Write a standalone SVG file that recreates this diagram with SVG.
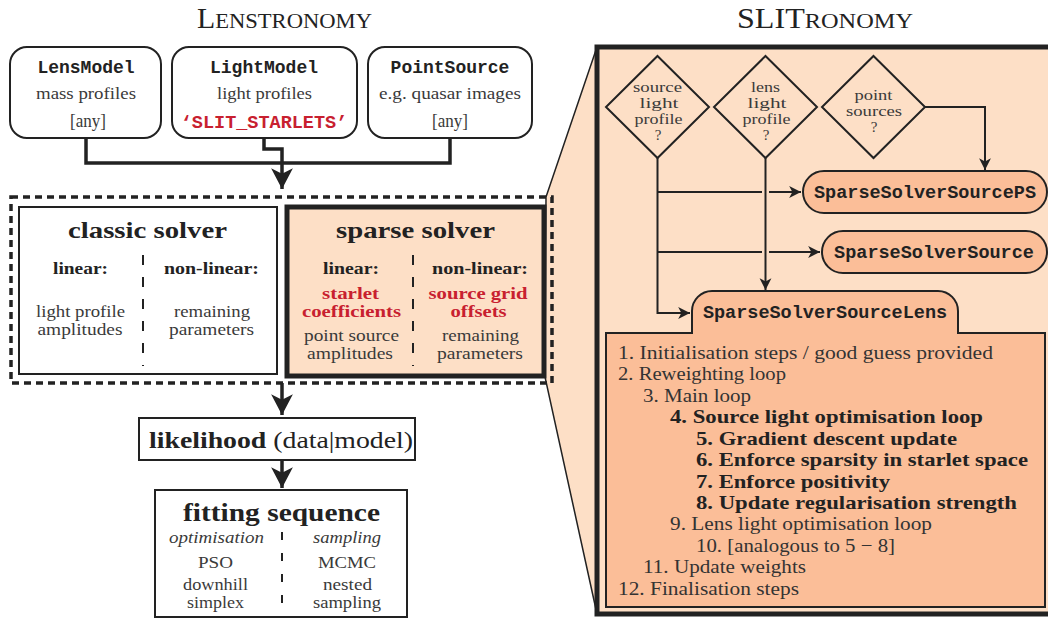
<svg xmlns="http://www.w3.org/2000/svg" width="1048" height="621" viewBox="0 0 1048 621">
<style>
.s{font-family:"Liberation Serif","DejaVu Serif",serif;fill:#3a3a3a;font-size:17px;text-anchor:middle}
.b{font-weight:bold;fill:#222}
.m{font-family:"Liberation Mono","DejaVu Sans Mono",monospace;font-weight:bold;fill:#222;text-anchor:middle}
.red{fill:#c8202f}
.dm{font-size:15px}
.box{fill:#fff;stroke:#222;stroke-width:2}
.thick{fill:none;stroke:#222;stroke-width:3.5}
.thin{fill:none;stroke:#222;stroke-width:2}
.div{stroke:#222;stroke-width:2;stroke-dasharray:10 12}
.lst{font-family:"Liberation Serif","DejaVu Serif",serif;fill:#333;font-size:19px}
.lb{font-weight:bold;fill:#222}
.pale{fill:#fddfc6}
.deep{fill:#fbbe98}
</style>
<defs>
<marker id="ah" markerUnits="userSpaceOnUse" markerWidth="24" markerHeight="24" viewBox="-20 -11 22 22" refX="0" refY="0" orient="auto">
<path d="M0,0 L-19,-10 L-14,0 L-19,10 Z" fill="#222"/>
</marker>
<marker id="as" markerUnits="userSpaceOnUse" markerWidth="14" markerHeight="14" viewBox="-12 -6 13 12" refX="0" refY="0" orient="auto">
<path d="M0,0 L-11,-5.5 L-8,0 L-11,5.5 Z" fill="#222"/>
</marker>
</defs>

<!-- titles -->
<text class="s" x="284.5" y="28" style="font-size:29px;fill:#222" textLength="175" lengthAdjust="spacingAndGlyphs">L<tspan style="font-size:22px">ENSTRONOMY</tspan></text>
<text class="s" x="825" y="28" style="font-size:29px;fill:#222" textLength="176" lengthAdjust="spacingAndGlyphs">SLIT<tspan style="font-size:22px">RONOMY</tspan></text>

<!-- zoom trapezoid and SLITronomy frame -->
<polygon points="546,197 597,47 597,614 545,377" class="pale" stroke="#222" stroke-width="1.5"/>
<rect x="597" y="47" width="470" height="567" class="pale" stroke="#222" stroke-width="5"/>

<!-- top Lenstronomy boxes -->
<g id="lensmodel">
<rect x="10" y="47" width="151" height="91" rx="17" class="box"/>
<text class="m" x="86" y="73" font-size="18">LensModel</text>
<text class="s" x="86" y="99" textLength="100" lengthAdjust="spacingAndGlyphs">mass profiles</text>
<text class="s" x="88" y="127" style="font-size:19px" textLength="36" lengthAdjust="spacingAndGlyphs">[any]</text>
</g>
<g id="lightmodel">
<rect x="172" y="47" width="185" height="91" rx="17" class="box"/>
<text class="m" x="264" y="73" font-size="18">LightModel</text>
<text class="s" x="264.5" y="99" textLength="95" lengthAdjust="spacingAndGlyphs">light profiles</text>
<text class="m red" x="264" y="128" font-size="18.5">‘SLIT_STARLETS’</text>
</g>
<g id="pointsource">
<rect x="368" y="47" width="164" height="91" rx="17" class="box"/>
<text class="m" x="450" y="73" font-size="18">PointSource</text>
<text class="s" x="450" y="99" textLength="142" lengthAdjust="spacingAndGlyphs">e.g. quasar images</text>
<text class="s" x="450" y="127" style="font-size:19px" textLength="36" lengthAdjust="spacingAndGlyphs">[any]</text>
</g>

<!-- solver group -->
<g id="solvers">
<rect x="11" y="197" width="541" height="186" fill="none" stroke="#222" stroke-width="3.5" stroke-dasharray="7 5"/>
</g>
<g id="classic">
<rect x="19" y="207" width="258" height="167" class="box"/>
<text class="s b" x="147.5" y="238" style="font-size:23px" textLength="159" lengthAdjust="spacingAndGlyphs">classic solver</text>
<line x1="143" y1="255" x2="143" y2="366" class="div"/>
<text class="s b" x="80.5" y="274" textLength="55" lengthAdjust="spacingAndGlyphs">linear:</text>
<text class="s b" x="211.5" y="274" textLength="95" lengthAdjust="spacingAndGlyphs">non-linear:</text>
<text class="s" x="80.5" y="317" textLength="89" lengthAdjust="spacingAndGlyphs">light profile</text>
<text class="s" x="80" y="335" textLength="85" lengthAdjust="spacingAndGlyphs">amplitudes</text>
<text class="s" x="212" y="317" textLength="76" lengthAdjust="spacingAndGlyphs">remaining</text>
<text class="s" x="211.5" y="335" textLength="85" lengthAdjust="spacingAndGlyphs">parameters</text>
</g>
<g id="sparse">
<rect x="287" y="207" width="257" height="169" class="pale" stroke="#222" stroke-width="5"/>
<text class="s b" x="415.5" y="238" style="font-size:23px" textLength="159" lengthAdjust="spacingAndGlyphs">sparse solver</text>
<line x1="413" y1="255" x2="413" y2="366" class="div"/>
<text class="s b" x="351" y="274" textLength="56" lengthAdjust="spacingAndGlyphs">linear:</text>
<text class="s b" x="480" y="274" textLength="96" lengthAdjust="spacingAndGlyphs">non-linear:</text>
<text class="s b red" x="350.5" y="299" textLength="57" lengthAdjust="spacingAndGlyphs">starlet</text>
<text class="s b red" x="351.5" y="317" textLength="99" lengthAdjust="spacingAndGlyphs">coefficients</text>
<text class="s b red" x="478" y="299" textLength="99" lengthAdjust="spacingAndGlyphs">source grid</text>
<text class="s b red" x="478.5" y="317" textLength="56" lengthAdjust="spacingAndGlyphs">offsets</text>
<text class="s" x="351.5" y="341" textLength="95" lengthAdjust="spacingAndGlyphs">point source</text>
<text class="s" x="350" y="359" textLength="86" lengthAdjust="spacingAndGlyphs">amplitudes</text>
<text class="s" x="480.5" y="341" textLength="77" lengthAdjust="spacingAndGlyphs">remaining</text>
<text class="s" x="480" y="359" textLength="86" lengthAdjust="spacingAndGlyphs">parameters</text>
</g>

<g id="likelihood">
<rect x="139" y="418" width="276" height="42" class="box"/>
<text class="s" x="281" y="448" style="font-size:24px;fill:#222" textLength="264" lengthAdjust="spacingAndGlyphs"><tspan font-weight="bold">likelihood</tspan> (data|model)</text>
</g>
<g id="fitting">
<rect x="155" y="490" width="252" height="127" class="box"/>
<text class="s b" x="281.5" y="521" style="font-size:25px" textLength="197" lengthAdjust="spacingAndGlyphs">fitting sequence</text>
<line x1="282" y1="532" x2="282" y2="612" stroke="#222" stroke-width="2" stroke-dasharray="8 13"/>
<text class="s" x="216.5" y="543" font-style="italic" textLength="95" lengthAdjust="spacingAndGlyphs">optimisation</text>
<text class="s" x="347" y="543" font-style="italic" textLength="68" lengthAdjust="spacingAndGlyphs">sampling</text>
<text class="s" x="215.5" y="568" textLength="35" lengthAdjust="spacingAndGlyphs">PSO</text>
<text class="s" x="347" y="568" textLength="58" lengthAdjust="spacingAndGlyphs">MCMC</text>
<text class="s" x="215.5" y="590" textLength="65" lengthAdjust="spacingAndGlyphs">downhill</text>
<text class="s" x="215.5" y="608" textLength="57" lengthAdjust="spacingAndGlyphs">simplex</text>
<text class="s" x="347.5" y="590" textLength="49" lengthAdjust="spacingAndGlyphs">nested</text>
<text class="s" x="347" y="608" textLength="68" lengthAdjust="spacingAndGlyphs">sampling</text>
</g>

<!-- SLITronomy nodes -->
<g id="d-source">
<polygon points="657.5,56 709,107 657.5,158 606,107" class="pale" stroke="#222" stroke-width="2"/>
<text class="s dm" x="657.5" y="92" textLength="49" lengthAdjust="spacingAndGlyphs">source</text>
<text class="s dm" x="659" y="108" textLength="39" lengthAdjust="spacingAndGlyphs">light</text>
<text class="s dm" x="658.5" y="124" textLength="48" lengthAdjust="spacingAndGlyphs">profile</text>
<text class="s dm" x="658" y="140">?</text>
</g>
<g id="d-lens">
<polygon points="765.5,56 817,107 765.5,158 714,107" class="pale" stroke="#222" stroke-width="2"/>
<text class="s dm" x="765.5" y="92" textLength="29" lengthAdjust="spacingAndGlyphs">lens</text>
<text class="s dm" x="767" y="108" textLength="39" lengthAdjust="spacingAndGlyphs">light</text>
<text class="s dm" x="766.5" y="124" textLength="48" lengthAdjust="spacingAndGlyphs">profile</text>
<text class="s dm" x="766" y="140">?</text>
</g>
<g id="d-ps">
<polygon points="873.5,56 925,107 873.5,158 822,107" class="pale" stroke="#222" stroke-width="2"/>
<text class="s dm" x="873.5" y="100" textLength="38" lengthAdjust="spacingAndGlyphs">point</text>
<text class="s dm" x="874" y="116" textLength="56" lengthAdjust="spacingAndGlyphs">sources</text>
<text class="s dm" x="874" y="132">?</text>
</g>
<g id="ssps">
<rect x="803" y="171" width="244" height="42" rx="21" class="deep" stroke="#222" stroke-width="2"/>
<text class="m" x="925" y="198" font-size="18.5">SparseSolverSourcePS</text>
</g>
<g id="sss">
<rect x="822" y="231" width="225" height="42" rx="21" class="deep" stroke="#222" stroke-width="2"/>
<text class="m" x="934" y="258" font-size="18.5">SparseSolverSource</text>
</g>
<g id="sssl">
<path d="M606,333 H692 V311 A20,20 0 0 1 712,291 H938 A20,20 0 0 1 958,311 V333 H1045 V607 H606 Z" class="deep" stroke="#222" stroke-width="2"/>
<text class="m" x="825" y="318" font-size="18.5">SparseSolverSourceLens</text>
<text class="lst" x="618" y="359" textLength="375" lengthAdjust="spacingAndGlyphs">1. Initialisation steps / good guess provided</text>
<text class="lst" x="618" y="380" textLength="168" lengthAdjust="spacingAndGlyphs">2. Reweighting loop</text>
<text class="lst" x="643" y="402" textLength="108" lengthAdjust="spacingAndGlyphs">3. Main loop</text>
<text class="lst lb" x="670" y="423" textLength="313" lengthAdjust="spacingAndGlyphs">4. Source light optimisation loop</text>
<text class="lst lb" x="696" y="445" textLength="261" lengthAdjust="spacingAndGlyphs">5. Gradient descent update</text>
<text class="lst lb" x="696" y="466" textLength="332" lengthAdjust="spacingAndGlyphs">6. Enforce sparsity in starlet space</text>
<text class="lst lb" x="696" y="488" textLength="194" lengthAdjust="spacingAndGlyphs">7. Enforce positivity</text>
<text class="lst lb" x="696" y="509" textLength="321" lengthAdjust="spacingAndGlyphs">8. Update regularisation strength</text>
<text class="lst" x="670" y="530" textLength="262" lengthAdjust="spacingAndGlyphs">9. Lens light optimisation loop</text>
<text class="lst" x="696" y="552" textLength="199" lengthAdjust="spacingAndGlyphs">10. [analogous to 5 − 8]</text>
<text class="lst" x="643" y="573" textLength="163" lengthAdjust="spacingAndGlyphs">11. Update weights</text>
<text class="lst" x="618" y="595" textLength="181" lengthAdjust="spacingAndGlyphs">12. Finalisation steps</text>
</g>

<!-- connectors -->
<g id="connectors">
<polyline points="86,138 86,163 450,163 450,138" class="thick"/>
<polyline points="264,138 264,149 282,149 282,189" class="thick" marker-end="url(#ah)"/>
<line x1="282" y1="383" x2="282" y2="415" class="thick" marker-end="url(#ah)"/>
<line x1="282" y1="460" x2="282" y2="488" class="thick" marker-end="url(#ah)"/>
<polyline points="925,107 985,107 985,170" class="thin" marker-end="url(#as)"/>
<polyline points="657.5,158 657.5,313 690,313" class="thin" marker-end="url(#as)"/>
<line x1="765.5" y1="158" x2="765.5" y2="290" class="thin" marker-end="url(#as)"/>
<line x1="657.5" y1="192" x2="762" y2="192" class="thin"/>
<line x1="769" y1="192" x2="801" y2="192" class="thin" marker-end="url(#as)"/>
<line x1="657.5" y1="252" x2="762" y2="252" class="thin"/>
<line x1="769" y1="252" x2="820" y2="252" class="thin" marker-end="url(#as)"/>
</g>
</svg>
